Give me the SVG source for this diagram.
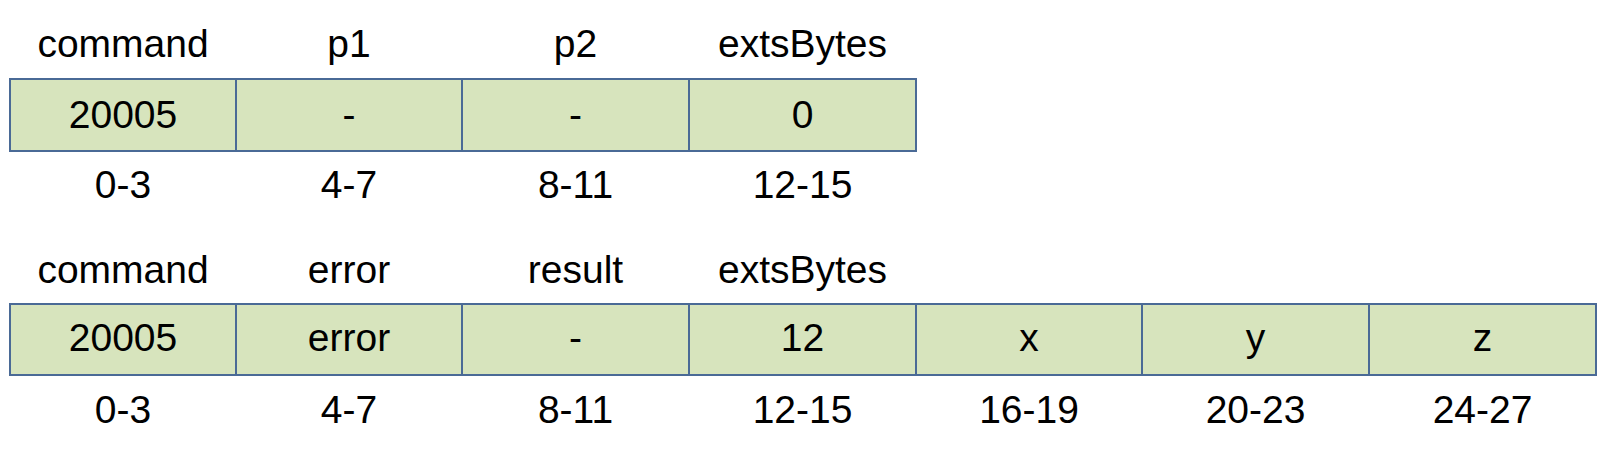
<svg xmlns="http://www.w3.org/2000/svg" width="1600" height="449" viewBox="0 0 1600 449">
<style>
.cell{fill:#D7E4BD;stroke:#4A6A96;stroke-width:2}
text{font-family:"Liberation Sans",Arial,sans-serif;font-size:39px;fill:#000;text-anchor:middle}
</style>
<rect width="1600" height="449" fill="#fff"/>
<g id="request">
<g id="r1c1"><text x="123" y="57">command</text><rect class="cell" x="10" y="79" width="226" height="72"/><text x="123" y="128">20005</text><text x="123" y="198">0-3</text></g>
<g id="r1c2"><text x="349" y="57">p1</text><rect class="cell" x="236" y="79" width="226" height="72"/><text x="349" y="128">-</text><text x="349" y="198">4-7</text></g>
<g id="r1c3"><text x="575.5" y="57">p2</text><rect class="cell" x="462" y="79" width="227" height="72"/><text x="575.5" y="128">-</text><text x="575.5" y="198">8-11</text></g>
<g id="r1c4"><text x="802.5" y="57">extsBytes</text><rect class="cell" x="689" y="79" width="227" height="72"/><text x="802.5" y="128">0</text><text x="802.5" y="198">12-15</text></g>
</g>
<g id="response">
<g id="r2c1"><text x="123" y="283">command</text><rect class="cell" x="10" y="304" width="226" height="71"/><text x="123" y="351">20005</text><text x="123" y="423">0-3</text></g>
<g id="r2c2"><text x="349" y="283">error</text><rect class="cell" x="236" y="304" width="226" height="71"/><text x="349" y="351">error</text><text x="349" y="423">4-7</text></g>
<g id="r2c3"><text x="575.5" y="283">result</text><rect class="cell" x="462" y="304" width="227" height="71"/><text x="575.5" y="351">-</text><text x="575.5" y="423">8-11</text></g>
<g id="r2c4"><text x="802.5" y="283">extsBytes</text><rect class="cell" x="689" y="304" width="227" height="71"/><text x="802.5" y="351">12</text><text x="802.5" y="423">12-15</text></g>
<g id="r2c5"><rect class="cell" x="916" y="304" width="226" height="71"/><text x="1029" y="351">x</text><text x="1029" y="423">16-19</text></g>
<g id="r2c6"><rect class="cell" x="1142" y="304" width="227" height="71"/><text x="1255.5" y="351">y</text><text x="1255.5" y="423">20-23</text></g>
<g id="r2c7"><rect class="cell" x="1369" y="304" width="227" height="71"/><text x="1482.5" y="351">z</text><text x="1482.5" y="423">24-27</text></g>
</g>
<g id="connectors"/>
</svg>
